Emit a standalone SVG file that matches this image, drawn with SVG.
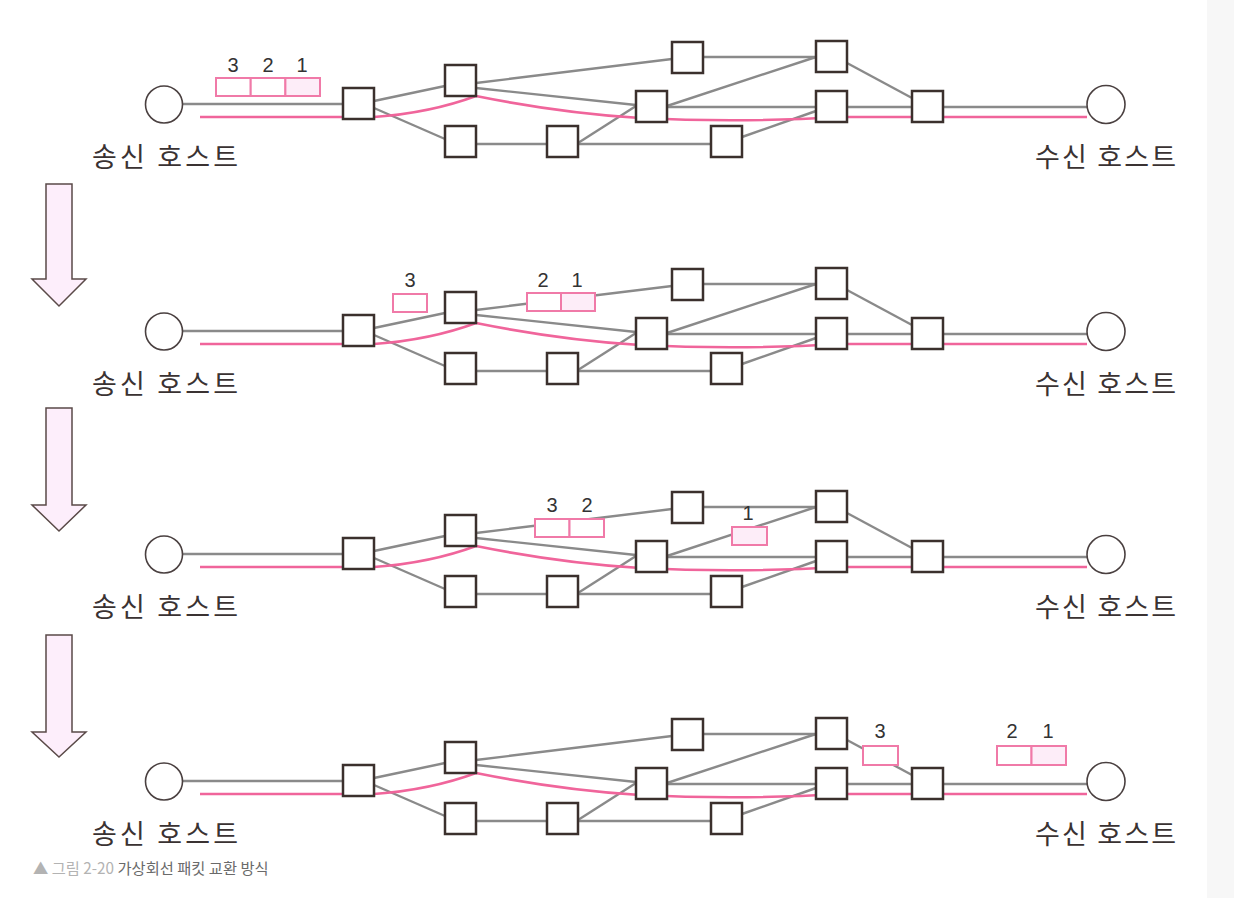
<svg xmlns="http://www.w3.org/2000/svg" width="1234" height="898" viewBox="0 0 1234 898">
<style>
.g{stroke:#8a8a8a;stroke-width:2.4;fill:none}
.pk{stroke:#f0659b;stroke-width:2.6;fill:none}
.nd rect{fill:#fff;stroke:#3b302d;stroke-width:2.5}
.host{fill:#fff;stroke:#4a4040;stroke-width:1.6}
.pkt{fill:#fff;stroke:#f07aa8;stroke-width:2}
.pkt.f{fill:#fdedf8}
.num{font-family:"Liberation Sans",sans-serif;font-size:20px;fill:#333;text-anchor:middle}
.lbl{font-family:"Noto Sans CJK KR",sans-serif;font-size:27px;fill:#3a3232}
.arr{fill:#fdeefb;stroke:#5a4a48;stroke-width:1.5}
</style>
<rect width="1234" height="898" fill="#fff"/>
<rect x="1207" y="0" width="27" height="898" fill="#f7f7f7"/>

<!-- arrows -->
<g id="arrows">
<path id="arrow1" class="arr" d="M46,184 H72 V279 H86 L59,306 L32,279 H46 Z"/>
<path id="arrow2" class="arr" d="M46,408 H72 V505 H86 L59,531 L32,505 H46 Z"/>
<path id="arrow3" class="arr" d="M46,635 H72 V732 H86 L59,757 L32,732 H46 Z"/>
</g>

<!-- Panel 1 -->
<g id="p1">
<g id="p1-connectors">
<g class="g">
<path d="M183,104 H343"/><path d="M374,101 L445,86"/><path d="M374,108 L445,139"/>
<path d="M476,83 L672,59"/><path d="M476,88 L636,105"/><path d="M476,144 H547"/>
<path d="M578,143 L636,106"/><path d="M578,144 H711"/><path d="M667,106 L816,57"/>
<path d="M703,57 H816"/><path d="M667,107 H816"/><path d="M742,137 L816,111"/>
<path d="M847,107 H912"/><path d="M847,63 L912,98"/><path d="M943,107 H1087"/>
</g>
<path class="pk" d="M200,117 H374 Q430,113 476,96 Q560,113 640,118 Q740,123 840,117 H1087"/>
</g>
<g id="p1-packets">
<rect class="pkt" x="216" y="78" width="34.7" height="18"/><rect class="pkt" x="250.7" y="78" width="34.7" height="18"/><rect class="pkt f" x="285.4" y="78" width="34.6" height="18"/>
<text class="num" x="233" y="72">3</text><text class="num" x="268" y="72">2</text><text class="num" x="302" y="72">1</text>
</g>
<g id="p1-sender"><circle class="host" cx="164" cy="104.5" r="18.5"/><text class="lbl" x="92" y="167" textLength="146">송신 호스트</text></g>
<g id="p1-receiver"><circle class="host" cx="1106" cy="104.5" r="19"/><text class="lbl" x="1035" y="167" textLength="141">수신 호스트</text></g>
<g id="p1-A" class="nd"><rect x="343" y="88" width="31" height="31"/></g>
<g id="p1-B" class="nd"><rect x="445" y="65" width="31" height="31"/></g>
<g id="p1-C" class="nd"><rect x="445" y="126" width="31" height="31"/></g>
<g id="p1-D" class="nd"><rect x="547" y="126" width="31" height="31"/></g>
<g id="p1-E" class="nd"><rect x="672" y="42" width="31" height="31"/></g>
<g id="p1-F" class="nd"><rect x="636" y="91" width="31" height="31"/></g>
<g id="p1-G" class="nd"><rect x="711" y="126" width="31" height="31"/></g>
<g id="p1-H" class="nd"><rect x="816" y="41" width="31" height="31"/></g>
<g id="p1-I" class="nd"><rect x="816" y="91" width="31" height="31"/></g>
<g id="p1-J" class="nd"><rect x="912" y="91" width="31" height="31"/></g>
</g>

<!-- Panel 2 -->
<g id="p2" transform="translate(0,227)">
<g id="p2-connectors">
<g class="g">
<path d="M183,104 H343"/><path d="M374,101 L445,86"/><path d="M374,108 L445,139"/>
<path d="M476,83 L672,59"/><path d="M476,88 L636,105"/><path d="M476,144 H547"/>
<path d="M578,143 L636,106"/><path d="M578,144 H711"/><path d="M667,106 L816,57"/>
<path d="M703,57 H816"/><path d="M667,107 H816"/><path d="M742,137 L816,111"/>
<path d="M847,107 H912"/><path d="M847,63 L912,98"/><path d="M943,107 H1087"/>
</g>
<path class="pk" d="M200,117 H374 Q430,113 476,96 Q560,113 640,118 Q740,123 840,117 H1087"/>
</g>
<g id="p2-packets">
<rect class="pkt" x="393" y="67" width="34" height="18"/>
<rect class="pkt" x="527" y="66" width="34" height="18"/><rect class="pkt f" x="561" y="66" width="34" height="18"/>
<text class="num" x="410" y="60">3</text><text class="num" x="543" y="60">2</text><text class="num" x="577" y="60">1</text>
</g>
<g id="p2-sender"><circle class="host" cx="164" cy="104.5" r="18.5"/><text class="lbl" x="92" y="167" textLength="146">송신 호스트</text></g>
<g id="p2-receiver"><circle class="host" cx="1106" cy="104.5" r="19"/><text class="lbl" x="1035" y="167" textLength="141">수신 호스트</text></g>
<g id="p2-A" class="nd"><rect x="343" y="88" width="31" height="31"/></g>
<g id="p2-B" class="nd"><rect x="445" y="65" width="31" height="31"/></g>
<g id="p2-C" class="nd"><rect x="445" y="126" width="31" height="31"/></g>
<g id="p2-D" class="nd"><rect x="547" y="126" width="31" height="31"/></g>
<g id="p2-E" class="nd"><rect x="672" y="42" width="31" height="31"/></g>
<g id="p2-F" class="nd"><rect x="636" y="91" width="31" height="31"/></g>
<g id="p2-G" class="nd"><rect x="711" y="126" width="31" height="31"/></g>
<g id="p2-H" class="nd"><rect x="816" y="41" width="31" height="31"/></g>
<g id="p2-I" class="nd"><rect x="816" y="91" width="31" height="31"/></g>
<g id="p2-J" class="nd"><rect x="912" y="91" width="31" height="31"/></g>
</g>

<!-- Panel 3 -->
<g id="p3" transform="translate(0,450)">
<g id="p3-connectors">
<g class="g">
<path d="M183,104 H343"/><path d="M374,101 L445,86"/><path d="M374,108 L445,139"/>
<path d="M476,83 L672,59"/><path d="M476,88 L636,105"/><path d="M476,144 H547"/>
<path d="M578,143 L636,106"/><path d="M578,144 H711"/><path d="M667,106 L816,57"/>
<path d="M703,57 H816"/><path d="M667,107 H816"/><path d="M742,137 L816,111"/>
<path d="M847,107 H912"/><path d="M847,63 L912,98"/><path d="M943,107 H1087"/>
</g>
<path class="pk" d="M200,117 H374 Q430,113 476,96 Q560,113 640,118 Q740,123 840,117 H1087"/>
</g>
<g id="p3-packets">
<rect class="pkt" x="535" y="69" width="34.5" height="18"/><rect class="pkt" x="569.5" y="69" width="34.5" height="18"/>
<rect class="pkt f" x="732" y="77" width="35" height="18"/>
<text class="num" x="552" y="62">3</text><text class="num" x="587" y="62">2</text><text class="num" x="748" y="70">1</text>
</g>
<g id="p3-sender"><circle class="host" cx="164" cy="104.5" r="18.5"/><text class="lbl" x="92" y="167" textLength="146">송신 호스트</text></g>
<g id="p3-receiver"><circle class="host" cx="1106" cy="104.5" r="19"/><text class="lbl" x="1035" y="167" textLength="141">수신 호스트</text></g>
<g id="p3-A" class="nd"><rect x="343" y="88" width="31" height="31"/></g>
<g id="p3-B" class="nd"><rect x="445" y="65" width="31" height="31"/></g>
<g id="p3-C" class="nd"><rect x="445" y="126" width="31" height="31"/></g>
<g id="p3-D" class="nd"><rect x="547" y="126" width="31" height="31"/></g>
<g id="p3-E" class="nd"><rect x="672" y="42" width="31" height="31"/></g>
<g id="p3-F" class="nd"><rect x="636" y="91" width="31" height="31"/></g>
<g id="p3-G" class="nd"><rect x="711" y="126" width="31" height="31"/></g>
<g id="p3-H" class="nd"><rect x="816" y="41" width="31" height="31"/></g>
<g id="p3-I" class="nd"><rect x="816" y="91" width="31" height="31"/></g>
<g id="p3-J" class="nd"><rect x="912" y="91" width="31" height="31"/></g>
</g>

<!-- Panel 4 -->
<g id="p4" transform="translate(0,677)">
<g id="p4-connectors">
<g class="g">
<path d="M183,104 H343"/><path d="M374,101 L445,86"/><path d="M374,108 L445,139"/>
<path d="M476,83 L672,59"/><path d="M476,88 L636,105"/><path d="M476,144 H547"/>
<path d="M578,143 L636,106"/><path d="M578,144 H711"/><path d="M667,106 L816,57"/>
<path d="M703,57 H816"/><path d="M667,107 H816"/><path d="M742,137 L816,111"/>
<path d="M847,107 H912"/><path d="M847,63 L912,98"/><path d="M943,107 H1087"/>
</g>
<path class="pk" d="M200,117 H374 Q430,113 476,96 Q560,113 640,118 Q740,123 840,117 H1087"/>
</g>
<g id="p4-packets">
<rect class="pkt" x="863" y="69" width="35" height="19"/>
<rect class="pkt" x="997" y="69" width="34.5" height="19"/><rect class="pkt f" x="1031.5" y="69" width="34.5" height="19"/>
<text class="num" x="880" y="61">3</text><text class="num" x="1012" y="61">2</text><text class="num" x="1048" y="61">1</text>
</g>
<g id="p4-sender"><circle class="host" cx="164" cy="104.5" r="18.5"/><text class="lbl" x="92" y="167" textLength="146">송신 호스트</text></g>
<g id="p4-receiver"><circle class="host" cx="1106" cy="104.5" r="19"/><text class="lbl" x="1035" y="167" textLength="141">수신 호스트</text></g>
<g id="p4-A" class="nd"><rect x="343" y="88" width="31" height="31"/></g>
<g id="p4-B" class="nd"><rect x="445" y="65" width="31" height="31"/></g>
<g id="p4-C" class="nd"><rect x="445" y="126" width="31" height="31"/></g>
<g id="p4-D" class="nd"><rect x="547" y="126" width="31" height="31"/></g>
<g id="p4-E" class="nd"><rect x="672" y="42" width="31" height="31"/></g>
<g id="p4-F" class="nd"><rect x="636" y="91" width="31" height="31"/></g>
<g id="p4-G" class="nd"><rect x="711" y="126" width="31" height="31"/></g>
<g id="p4-H" class="nd"><rect x="816" y="41" width="31" height="31"/></g>
<g id="p4-I" class="nd"><rect x="816" y="91" width="31" height="31"/></g>
<g id="p4-J" class="nd"><rect x="912" y="91" width="31" height="31"/></g>
</g>

<text id="caption" x="33" y="874" font-family="'Noto Sans CJK KR',sans-serif" font-size="15.3"><tspan fill="#b3b3b3">▲ 그림 2-20 </tspan><tspan fill="#6a6a6a">가상회선 패킷 교환 방식</tspan></text>
</svg>
